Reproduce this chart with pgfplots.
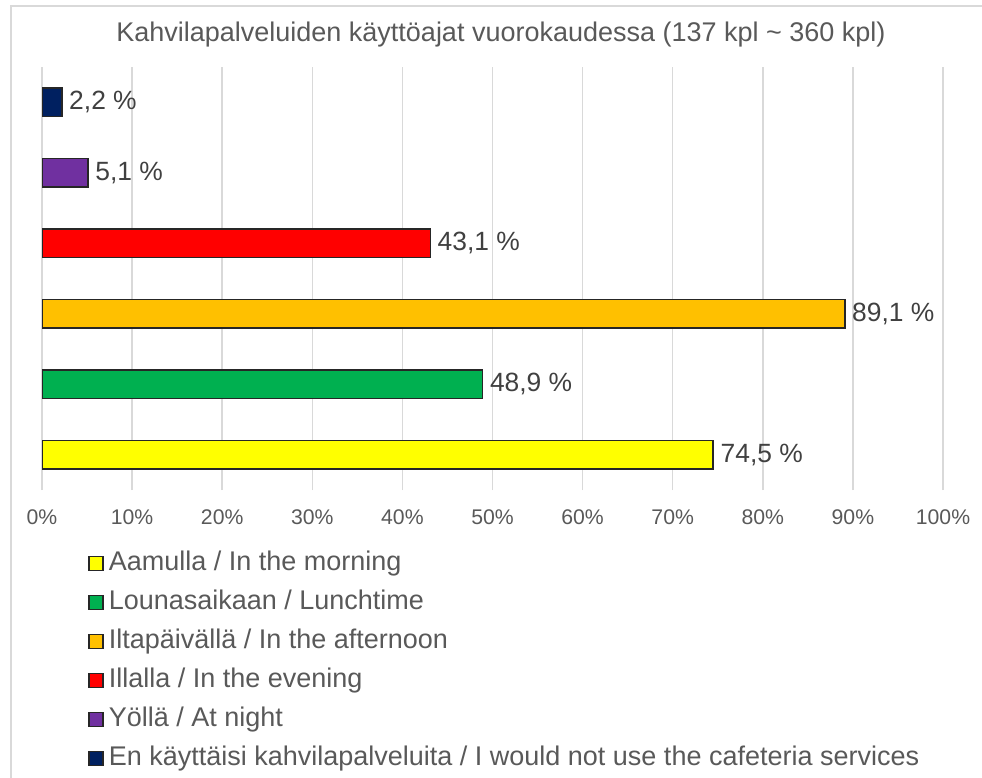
\documentclass[border=0pt]{standalone}
\usepackage{pgfplots}
\pgfplotsset{compat=1.18}
\usepackage{fontspec}
\setmainfont{Liberation Sans}
\definecolor{txt}{HTML}{595959}
\definecolor{lbl}{HTML}{404040}
\definecolor{gridc}{HTML}{D9D9D9}
\definecolor{cyel}{HTML}{FFFF00}
\definecolor{cgrn}{HTML}{00B050}
\definecolor{corg}{HTML}{FFC000}
\definecolor{cred}{HTML}{FF0000}
\definecolor{cpur}{HTML}{7030A0}
\definecolor{cnav}{HTML}{002060}
\definecolor{edge}{HTML}{262626}
\begin{document}
\begin{tikzpicture}
\path[use as bounding box] (0pt,0pt) rectangle (491pt,389pt);
\draw[gridc, line width=0.75pt] (5.5pt,0pt) -- (5.5pt,386pt) -- (491pt,386pt);
\node[text=txt, font=\fontsize{13.5}{16}\selectfont, anchor=base] at (250.5pt,368pt) {Kahvilapalveluiden käyttöajat vuorokaudessa (137 kpl \string~ 360 kpl)};
\begin{axis}[
  at={(21pt,144pt)}, anchor=south west,
  scale only axis, width=450.5pt, height=211.5pt,
  xbar, bar width=0.4, bar shift=0pt,
  xmin=0, xmax=100, ymin=-0.5, ymax=5.5,
  xtick={0,10,...,100}, ytick=\empty,
  xmajorgrids, grid style={draw=gridc, line width=0.75pt},
  axis line style={draw=none},
  major tick length=0pt,
  /pgf/number format/assume math mode=true,
  xticklabel={\pgfmathprintnumber{\tick}\%},
  ticklabel style={font=\fontsize{10.6}{13}\selectfont, text=txt},
  xticklabel style={yshift=-6.5pt},
  point meta=x,
  nodes near coords={\pgfmathprintnumber[fixed,precision=1,fixed zerofill,use comma]{\pgfplotspointmeta} \%},
  every node near coord/.append style={font=\fontsize{13.2}{16}\selectfont, text=lbl},
  legend cell align=left,
  legend style={at={(axis description cs:0,0)}, anchor=north west, xshift=23pt, yshift=-30pt,
    draw=none, fill=none, inner sep=0pt, row sep=6.5pt,
    font=\fontsize{13.5}{16}\selectfont, text=txt,
    nodes={text height=10pt, text depth=3pt, inner ysep=0pt, inner xsep=2.5pt},
    /tikz/every even column/.append style={column sep=0pt}},
  legend image code/.code={\draw[#1, draw=edge, line width=0.7pt] (0pt,-3.5pt) rectangle (7pt,3.5pt);},
]
\addplot[fill=cyel, draw=edge, line width=0.75pt] coordinates {(74.5,0)};
\addlegendentry{Aamulla / In the morning}
\addplot[fill=cgrn, draw=edge, line width=0.75pt] coordinates {(48.9,1)};
\addlegendentry{Lounasaikaan / Lunchtime}
\addplot[fill=corg, draw=edge, line width=0.75pt] coordinates {(89.1,2)};
\addlegendentry{Iltapäivällä / In the afternoon}
\addplot[fill=cred, draw=edge, line width=0.75pt] coordinates {(43.1,3)};
\addlegendentry{Illalla / In the evening}
\addplot[fill=cpur, draw=edge, line width=0.75pt] coordinates {(5.1,4)};
\addlegendentry{Yöllä / At night}
\addplot[fill=cnav, draw=edge, line width=0.75pt] coordinates {(2.2,5)};
\addlegendentry{En käyttäisi kahvilapalveluita / I would not use the cafeteria services}
\end{axis}
\end{tikzpicture}
\end{document}
